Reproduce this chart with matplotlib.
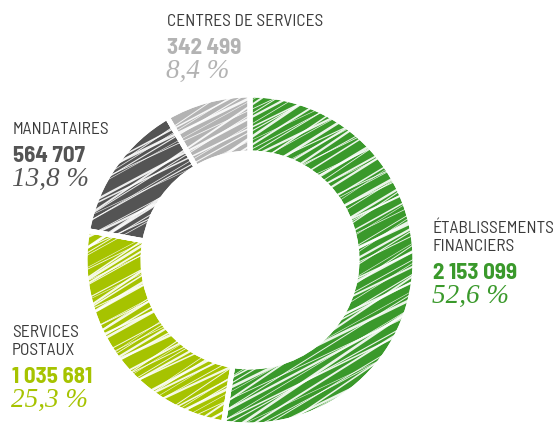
import numpy as np
import matplotlib.pyplot as plt
from matplotlib.patches import Wedge

# données
categories = ["ÉTABLISSEMENTS\nFINANCIERS", "SERVICES\nPOSTAUX", "MANDATAIRES", "CENTRES DE SERVICES"]
counts = [2153099, 1035681, 564707, 342499]
count_labels = ["2 153 099", "1 035 681", "564 707", "342 499"]
pct_labels = ["52,6 %", "25,3 %", "13,8 %", "8,4 %"]
colors = ["#3a992b", "#a6c300", "#545454", "#b3b3b3"]

W, H = 556, 423
label_color = "#3a3a3a"
sans = ["Barlow Semi Condensed", "Barlow Condensed", "DejaVu Sans"]
serif = ["Liberation Serif", "DejaVu Serif"]

# position du texte (x, ligne de base du titre) en pixels depuis le haut
text_pos = [(433, 233), (12, 337), (13, 134), (167, 26)]

fig = plt.figure(figsize=(W / 100, H / 100), dpi=100)
ax = fig.add_axes([0, 0, 1, 1])

wedges, _ = ax.pie(counts, colors=colors, startangle=90, counterclock=False,
                   center=(250, H - 260), radius=165,
                   wedgeprops=dict(width=58, edgecolor="white", linewidth=3.5))
ax.set_xlim(0, W)
ax.set_ylim(0, H)
ax.set_aspect("equal")
ax.axis("off")

# effet "crayonné" : traits blancs obliques
steps = [4, 5, 3, 6, 4, 3, 7, 3, 5]
widths = [0.6, 1.4, 0.4, 1.9, 0.8, 1.1, 0.5, 1.6, 0.7]
angles = [28, 32, 25, 34, 29, 26, 31]
xs = np.array([-50, W + 50])
for w in wedges:
    c = -450.0
    i = 0
    while c < 500:
        a = np.radians(angles[i % len(angles)])
        ys = (xs - 250) * np.tan(a) + (H - 260) + c
        ln, = ax.plot(xs, ys, color="white", lw=widths[i % len(widths)],
                      alpha=0.9, solid_capstyle="butt")
        ln.set_clip_path(w)
        c += steps[i % len(steps)]
        i += 1
    # redessine la séparation blanche par-dessus les traits
    ax.add_patch(Wedge(w.center, w.r, w.theta1, w.theta2, width=w.width,
                       fill=False, edgecolor="white", lw=3.5))

for cat, cnt, pct, col, (x, y) in zip(categories, count_labels, pct_labels, colors, text_pos):
    lines = cat.split("\n")
    for k, line in enumerate(lines):
        ax.text(x, H - (y + 18 * k), line, family=sans, fontsize=12.5,
                color=label_color, va="baseline", ha="left")
    yb = y + 18 * (len(lines) - 1)
    ax.text(x, H - (yb + 28), cnt, family=sans, fontsize=16.5, weight="bold",
            color=col, va="baseline", ha="left")
    ax.text(x - 1, H - (yb + 52), pct, family=serif, fontsize=19.5, style="italic",
            color=col, va="baseline", ha="left")

fig.savefig("out.png", dpi=100)
